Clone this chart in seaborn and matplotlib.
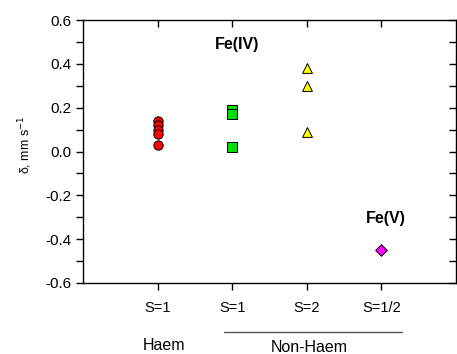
import matplotlib
matplotlib.use("Agg")
import matplotlib.pyplot as plt
from matplotlib.ticker import MultipleLocator
from matplotlib.lines import TICKDOWN, TICKLEFT
import seaborn as sns
import pandas as pd

# ---- data ----
categories = ["S=1", "S=1", "S=2", "S=1/2"]
groups = ["Haem", "NonHaem S=1", "NonHaem S=2", "Fe(V)"]
haem_s1 = [0.14, 0.12, 0.10, 0.08, 0.03]
nonhaem_s1 = [0.19, 0.17, 0.02]
nonhaem_s2 = [0.38, 0.30, 0.09]
nonhaem_s12 = [-0.45]
y_ticks = [-0.6, -0.4, -0.2, 0.0, 0.2, 0.4, 0.6]

series = [haem_s1, nonhaem_s1, nonhaem_s2, nonhaem_s12]
rows = []
for i, (g, vals) in enumerate(zip(groups, series)):
    for v in vals:
        rows.append({"x": i + 1, "y": v, "group": g})
df = pd.DataFrame(rows)

sns.set_style("ticks")
plt.rcParams["font.family"] = ["Liberation Sans", "DejaVu Sans"]
plt.rcParams["text.color"] = "black"
plt.rcParams["axes.labelcolor"] = "black"
plt.rcParams["xtick.color"] = "black"
plt.rcParams["ytick.color"] = "black"
plt.rcParams["axes.edgecolor"] = "black"

fig = plt.figure(figsize=(4.57, 3.54), dpi=100)
ax = fig.add_axes([83 / 457, 1 - 283 / 354, (456 - 83) / 457, (283 - 20) / 354])

palette = {"Haem": "#ff0000", "NonHaem S=1": "#00e000", "NonHaem S=2": "#ffff00", "Fe(V)": "#ff00ff"}
markers = {"Haem": "o", "NonHaem S=1": "s", "NonHaem S=2": "^", "Fe(V)": "D"}
sizes = {"Haem": 45, "NonHaem S=1": 42, "NonHaem S=2": 50, "Fe(V)": 35}
for g in groups:
    sub = df[df["group"] == g]
    sns.scatterplot(data=sub, x="x", y="y", color=palette[g], marker=markers[g],
                    s=sizes[g], edgecolor="black", linewidth=0.7, ax=ax, legend=False, zorder=3)

ax.set_xlim(0, 5)
ax.set_xticks([1, 2, 3, 4])
ax.set_xticklabels(categories, fontsize=10.5)
ax.set_yticks(y_ticks)
ax.set_yticklabels([f"{v:.1f}" for v in y_ticks], fontsize=11)
ax.yaxis.set_minor_locator(MultipleLocator(0.1))
ax.set_ylim(-0.6, 0.6)
ax.tick_params(axis="x", which="both", direction="out", length=5, width=1, top=True, pad=8)
ax.tick_params(axis="y", which="both", direction="out", length=5, width=1, right=True, pad=3)
for t in ax.xaxis.get_major_ticks():
    t.tick2line.set_marker(TICKDOWN)
    t.tick2line.set_markersize(5)
for t in ax.yaxis.get_major_ticks() + ax.yaxis.get_minor_ticks():
    t.tick2line.set_marker(TICKLEFT)
    t.tick2line.set_markersize(5)
for s in ax.spines.values():
    s.set_linewidth(1)
    s.set_visible(True)
    s.set_color("black")

ax.set_xlabel("")
ax.set_ylabel("")
fig.text(25 / 457, 1 - 145 / 354, "δ, mm s$^{-1}$", fontsize=9, rotation=90,
         ha="center", va="center")

fig.text(237 / 457, 1 - 45 / 354, "Fe(IV)", fontsize=11.5, fontweight="bold",
         ha="center", va="center")
fig.text(386 / 457, 1 - 219 / 354, "Fe(V)", fontsize=11.5, fontweight="bold",
         ha="center", va="center")

fig.text(164 / 457, 1 - 345 / 354, "Haem", fontsize=11.5, ha="center", va="center")
fig.text(309 / 457, 1 - 347 / 354, "Non-Haem", fontsize=11.5, ha="center", va="center")
fig.add_artist(plt.Line2D([224 / 457, 402 / 457], [1 - 332 / 354, 1 - 332 / 354],
                          color="#555555", linewidth=1, transform=fig.transFigure))

fig.savefig("out.png", dpi=100)
